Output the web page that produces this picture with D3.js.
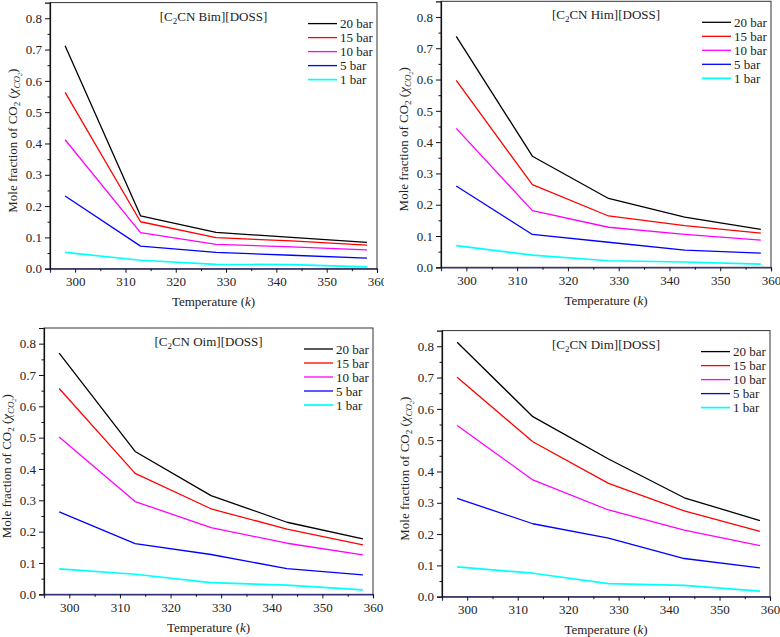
<!DOCTYPE html>
<html><head><meta charset="utf-8">
<script src="https://cdn.jsdelivr.net/npm/d3@7"></script>
<style>
body{margin:0;background:#fff}
svg{display:block}
svg text{font-family:"Liberation Serif","Times New Roman",serif !important;fill:#222}
</style>
</head><body>
<svg id="chart" width="780" height="637"></svg>
<script>
// ---- data ----
const temperatures = [298, 313, 328, 343, 358];
const seriesNames = ["20 bar", "15 bar", "10 bar", "5 bar", "1 bar"];
const seriesColors = ["#000000", "#ff0000", "#ff00ff", "#0000ff", "#00ffff"];
const xTickValues = [300, 310, 320, 330, 340, 350, 360];
const xMinorTicks = [305, 315, 325, 335, 345, 355];
const yTickValues = [0, 0.1, 0.2, 0.3, 0.4, 0.5, 0.6, 0.7, 0.8];
const yMinorTicks = [0.05, 0.15, 0.25, 0.35, 0.45, 0.55, 0.65, 0.75];

// rows: 20, 15, 10, 5, 1 bar
const bimValues = [
  [0.712, 0.169, 0.116, 0.100, 0.084],
  [0.563, 0.150, 0.099, 0.089, 0.075],
  [0.412, 0.115, 0.078, 0.070, 0.060],
  [0.232, 0.072, 0.052, 0.043, 0.034],
  [0.052, 0.027, 0.014, 0.013, 0.006]
];
const himValues = [
  [0.738, 0.355, 0.220, 0.160, 0.121],
  [0.597, 0.264, 0.164, 0.133, 0.109],
  [0.444, 0.181, 0.128, 0.105, 0.087],
  [0.260, 0.105, 0.080, 0.055, 0.045],
  [0.069, 0.039, 0.021, 0.017, 0.010]
];
const oimValues = [
  [0.770, 0.456, 0.315, 0.230, 0.177],
  [0.657, 0.386, 0.273, 0.208, 0.158],
  [0.502, 0.296, 0.213, 0.163, 0.126],
  [0.263, 0.162, 0.127, 0.082, 0.062],
  [0.081, 0.064, 0.037, 0.029, 0.014]
];
const dimValues = [
  [0.813, 0.575, 0.440, 0.316, 0.243],
  [0.701, 0.495, 0.362, 0.274, 0.209],
  [0.547, 0.373, 0.277, 0.213, 0.163],
  [0.314, 0.233, 0.187, 0.122, 0.092],
  [0.095, 0.075, 0.042, 0.036, 0.018]
];
const panelCations = ["Bim", "Him", "Oim", "Dim"];

// ---- layout ----
const FONT = '"Liberation Serif","Times New Roman",serif';
const panels = [
  {cation: panelCations[0], values: bimValues, left: 50,  right: 377, top: 2.6,   bottom: 268.7, clipRight: 384},
  {cation: panelCations[1], values: himValues, left: 441, right: 771, top: 1.3,   bottom: 267.3, clipRight: 780},
  {cation: panelCations[2], values: oimValues, left: 44,  right: 373, top: 328,   bottom: 594.3, clipRight: 390},
  {cation: panelCations[3], values: dimValues, left: 442, right: 770, top: 330.6, bottom: 596.7, clipRight: 780}
];

const svg = d3.select("#chart");
const defs = svg.append("defs");

panels.forEach((p, pi) => {
  const clipId = "clip" + pi;
  defs.append("clipPath").attr("id", clipId)
    .append("rect").attr("x", 0).attr("y", 0).attr("width", p.clipRight).attr("height", 637);
  const g = svg.append("g").attr("clip-path", `url(#${clipId})`);

  const x = d3.scaleLinear().domain([295, 360]).range([p.left, p.right]);
  const y = d3.scaleLinear().domain([0, 0.85]).range([p.bottom, p.top]);

  // frame
  g.append("rect")
    .attr("x", p.left).attr("y", p.top)
    .attr("width", p.right - p.left).attr("height", p.bottom - p.top)
    .attr("fill", "none").attr("stroke", "#333").attr("stroke-width", 1);

  // data lines
  const line = d3.line().x((d, i) => x(temperatures[i])).y(d => y(d));
  p.values.forEach((vals, si) => {
    g.append("path").datum(vals)
      .attr("d", line)
      .attr("fill", "none")
      .attr("stroke", seriesColors[si])
      .attr("stroke-width", si === 4 ? 1.7 : 1.3)
      .attr("stroke-linejoin", "round");
  });

  // axes
  const xAxis = g.append("g").attr("transform", `translate(0,${p.bottom})`)
    .call(d3.axisBottom(x).tickValues(xTickValues).tickSize(4).tickPadding(4).tickFormat(d3.format("d")));
  g.append("g").attr("transform", `translate(0,${p.bottom})`)
    .call(d3.axisBottom(x).tickValues(xMinorTicks).tickSize(2.5).tickFormat(""))
    .call(a => a.select(".domain").remove());
  g.append("g").attr("transform", `translate(${p.left},0)`)
    .call(d3.axisLeft(y).tickValues(yTickValues).tickSize(5).tickPadding(3).tickFormat(d3.format(".1f")));
  g.append("g").attr("transform", `translate(${p.left},0)`)
    .call(d3.axisLeft(y).tickValues(yMinorTicks).tickSize(2.5).tickFormat(""))
    .call(a => a.select(".domain").remove());
  g.selectAll("g").attr("font-family", FONT);
  g.selectAll(".domain").attr("stroke", "#111").attr("stroke-width", 1.2);
  g.selectAll(".tick line").attr("stroke", "#111");
  g.selectAll(".tick text").style("font-family", FONT).style("font-size", "13px").attr("fill", "#222");
  xAxis.select(".domain").attr("stroke", "#2a2a80");

  // title
  const cx = (p.left + p.right) / 2;
  const title = g.append("text").attr("x", cx).attr("y", p.top + 18)
    .attr("text-anchor", "middle").style("font-family", FONT).style("font-size", "13px");
  title.append("tspan").text("[C");
  title.append("tspan").style("font-size", "9px").attr("dy", 3).text("2");
  title.append("tspan").attr("dy", -3).text(`CN ${p.cation}][DOSS]`);

  // legend
  seriesNames.forEach((name, si) => {
    const ly = p.top + 21 + si * 14;
    g.append("line")
      .attr("x1", p.right - 69).attr("x2", p.right - 40)
      .attr("y1", ly).attr("y2", ly)
      .attr("stroke", seriesColors[si]).attr("stroke-width", si === 4 ? 1.7 : 1.3);
    g.append("text").attr("x", p.right - 37).attr("y", ly + 4.5)
      .style("font-family", FONT).style("font-size", "13px").text(name);
  });

  // x label
  const xl = g.append("text").attr("x", cx).attr("y", p.bottom + 37.5)
    .attr("text-anchor", "middle").style("font-family", FONT).style("font-size", "13px");
  xl.append("tspan").text("Temperature (");
  xl.append("tspan").style("font-style", "italic").text("k");
  xl.append("tspan").text(")");

  // y label
  const ycy = (p.top + p.bottom) / 2 + 5;
  const yl = g.append("text")
    .attr("transform", `translate(${p.left - 33},${ycy}) rotate(-90)`)
    .attr("text-anchor", "middle").style("font-family", FONT).style("font-size", "13px");
  yl.append("tspan").text("Mole fraction of CO");
  yl.append("tspan").style("font-size", "9px").attr("dy", 3).text("2");
  yl.append("tspan").attr("dy", -3).text(" (");
  yl.append("tspan").style("font-style", "italic").text("χ");
  yl.append("tspan").style("font-style", "italic").style("font-size", "9px").attr("dy", 3).text("CO");
  yl.append("tspan").style("font-style", "italic").style("font-size", "6px").attr("dy", 1.5).text("2");
  yl.append("tspan").attr("dy", -4.5).text(")");
});
</script>
</body></html>
